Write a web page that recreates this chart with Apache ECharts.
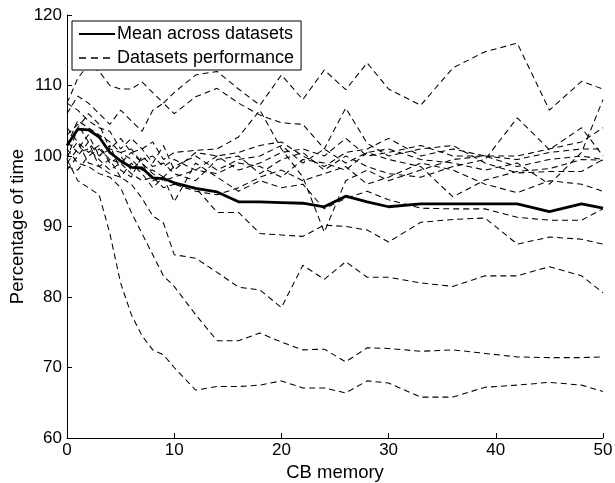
<!DOCTYPE html>
<html>
<head>
<meta charset="utf-8">
<script src="https://cdn.jsdelivr.net/npm/echarts@6/dist/echarts.min.js"></script>
<style>
  html, body { margin: 0; padding: 0; background: #fff; }
  #chart { width: 615px; height: 483px; }
</style>
</head>
<body>
<div id="chart"></div>
<script>
// CB memory values (x)
const memory = [0, 1, 2, 3, 4, 5, 6, 7, 8, 9, 10, 12, 14, 16, 18, 20, 22, 24, 26, 28, 30, 33, 36, 39, 42, 45, 48, 50];

// mean across datasets
const meanLine = [101.5, 103.8, 103.7, 102.7, 100.5, 99.3, 98.4, 98.3, 96.9, 96.8, 96.2, 95.4, 94.9, 93.5, 93.5, 93.4, 93.3, 92.8, 94.3, 93.5, 92.8, 93.2, 93.2, 93.2, 93.2, 92.1, 93.2, 92.6];

// each dataset
const dsA = [99.5, 96.5, 95.5, 94.5, 89, 82, 77.5, 74.5, 72.5, 71.8, 70, 66.8, 67.3, 67.3, 67.5, 68.1, 67.1, 67.1, 66.4, 68.1, 67.8, 65.8, 65.8, 67.2, 67.5, 67.9, 67.5, 66.6];
const dsB = [101, 99, 98.5, 97.5, 97, 95.5, 92, 89, 86, 83, 81.5, 77.5, 73.8, 73.8, 74.9, 73.6, 72.5, 72.6, 70.8, 72.8, 72.7, 72.3, 72.5, 72, 71.5, 71.4, 71.4, 71.5];
const dsC = [100, 102, 99, 98.5, 97.5, 97, 96, 94, 91.5, 90.5, 86, 85.5, 83.5, 81.4, 81, 78.5, 84.5, 82.5, 85, 82.8, 82.8, 82, 81.5, 83, 83, 84.3, 83, 80.6];
const dsD = [102, 100.5, 101, 99.5, 98, 99, 97.5, 96.5, 97, 95.5, 96, 95.5, 92, 92, 89, 88.8, 88.6, 90.2, 90, 89.5, 87.8, 90.6, 91, 91.2, 87.5, 88.5, 88.2, 87.5];
const dsE = [98, 100, 102, 98.5, 99.5, 97, 99, 97.5, 95.5, 97, 93.5, 99, 97, 95, 96.5, 95.5, 96, 92.5, 94, 95, 93.8, 92.6, 92.5, 92.5, 91.3, 90.9, 90.9, 92.5];
const dsF = [104, 102, 100.5, 101.5, 99, 100, 98, 99.5, 100, 98.5, 99.5, 98, 97.5, 99, 98.5, 97, 99.5, 99, 98, 100.5, 99.5, 98.5, 94.2, 96.6, 97.8, 98.2, 99.5, 99.4];
const dsG = [99, 101, 103, 100, 101.5, 98, 97, 100, 98.5, 99, 97.5, 96.5, 99.5, 100, 97.5, 99.5, 100.5, 98, 100, 98.5, 97.5, 97, 98.5, 99.5, 105.4, 100.9, 104, 100];
const dsH = [103, 104.5, 102, 100, 101, 102.5, 100.5, 101, 102, 99.5, 100.5, 100.8, 101, 102.7, 106.5, 101, 97, 89.2, 96.5, 98, 96.5, 98, 99.5, 100, 99.5, 100.5, 101, 101];
const dsI = [107.5, 106.5, 105, 104, 103.5, 101, 102.5, 101, 99, 101.5, 98, 100.5, 100, 100.5, 101.5, 102, 100, 98.5, 100.5, 101, 102.5, 100, 101, 100, 100, 101, 102, 104];
const dsJ = [99.5, 104, 106, 104.5, 101, 100.5, 99.5, 98, 98, 97, 96, 95, 94.5, 95.5, 97, 98, 96.5, 97.5, 98.5, 96, 97, 99, 98, 96, 94.8, 96.5, 96, 95];
const dsK = [98.5, 98, 100, 101, 99.5, 99, 100.5, 99, 97.5, 96.5, 97, 98, 100, 98, 99, 100.5, 101, 100, 102.5, 100, 100.5, 101.5, 100, 100, 98.5, 99.5, 100, 99.5];
const dsR = [101.5, 105, 104, 103, 102, 100.5, 101, 99, 96.5, 97, 98.5, 100, 98, 99.5, 100, 101.5, 99, 101, 99, 100.5, 101, 99.5, 99, 98, 99, 96, 100.5, 108];
const dsU1 = [107.5, 111, 113, 112, 110, 109.5, 109.5, 110.5, 109, 107.5, 109, 111.5, 112, 109.5, 107.2, 111.5, 108, 112.2, 109.4, 113.2, 109.5, 107.2, 112.5, 114.8, 116, 106.5, 110.6, 109.5];
const dsU2 = [106, 108.5, 107.5, 106, 104.5, 106.5, 105, 103.5, 106.5, 107.5, 106, 108.4, 109.6, 107.5, 105.8, 104.7, 104.5, 101, 106.8, 101.8, 100, 101, 101.5, 99, 97.6, 97.8, 97.8, 99.5];

const datasets = [dsA, dsB, dsC, dsD, dsE, dsF, dsG, dsH, dsI, dsJ, dsK, dsR, dsU1, dsU2];

const meanName = "Mean across datasets";
const dsName = "Datasets performance";
const font = "Liberation Sans, Arial, Helvetica, sans-serif";

function pairs(vals) {
  return memory.map((x, i) => [x, vals[i]]);
}

let chart = echarts.init(document.getElementById("chart"));

let series = [
  {
    name: meanName,
    type: "line",
    data: pairs(meanLine),
    symbol: "none",
    z: 5,
    lineStyle: { color: "#000", width: 2.8 },
    itemStyle: { color: "#000" },
  },
];
datasets.forEach((d) => {
  series.push({
    name: dsName,
    type: "line",
    data: pairs(d),
    symbol: "none",
    z: 2,
    silent: true,
    lineStyle: { color: "#000", width: 1.05, type: [6, 4] },
    itemStyle: { color: "#000" },
  });
});

let option = {
  animation: false,
  backgroundColor: "#fff",
  grid: { left: 67, top: 15, right: 12, bottom: 45, outerBoundsMode: "none", containLabel: false },
  legend: {
    data: [
      { name: meanName },
      { name: dsName, lineStyle: { type: [7, 5], width: 1.4, color: "#000" } },
    ],
    orient: "vertical",
    left: 72,
    top: 21,
    itemWidth: 36,
    itemHeight: 12,
    itemGap: 6,
    padding: [4, 7, 3, 6],
    backgroundColor: "#fff",
    borderColor: "#000",
    borderWidth: 1,
    z: 10,
    // hide the marker dot, keep only the line sample
    itemStyle: { opacity: 0 },
    textStyle: { color: "#000", fontSize: 18, fontFamily: font, padding: [0, 0, 0, -3] },
  },
  xAxis: {
    type: "value",
    min: 0,
    max: 50,
    interval: 10,
    name: "CB memory",
    nameLocation: "middle",
    nameGap: 25,
    nameTextStyle: { color: "#000", fontSize: 18.5, fontFamily: font },
    axisLine: { lineStyle: { color: "#000", width: 1 } },
    axisTick: { inside: true, length: 5, lineStyle: { color: "#000" } },
    axisLabel: { color: "#000", fontSize: 17, fontFamily: font, margin: 4 },
    splitLine: { show: false },
  },
  yAxis: {
    type: "value",
    min: 60,
    max: 120,
    interval: 10,
    name: "Percentage of time",
    nameLocation: "middle",
    nameGap: 40,
    nameMoveOverlap: false,
    nameTextStyle: { color: "#000", fontSize: 18.5, fontFamily: font },
    axisLine: { show: true, lineStyle: { color: "#000", width: 1 } },
    axisTick: { show: true, inside: true, length: 5, lineStyle: { color: "#000" } },
    axisLabel: { color: "#000", fontSize: 17, fontFamily: font, margin: 5 },
    splitLine: { show: false },
  },
  series: series,
};
chart.setOption(option);
</script>
</body>
</html>
